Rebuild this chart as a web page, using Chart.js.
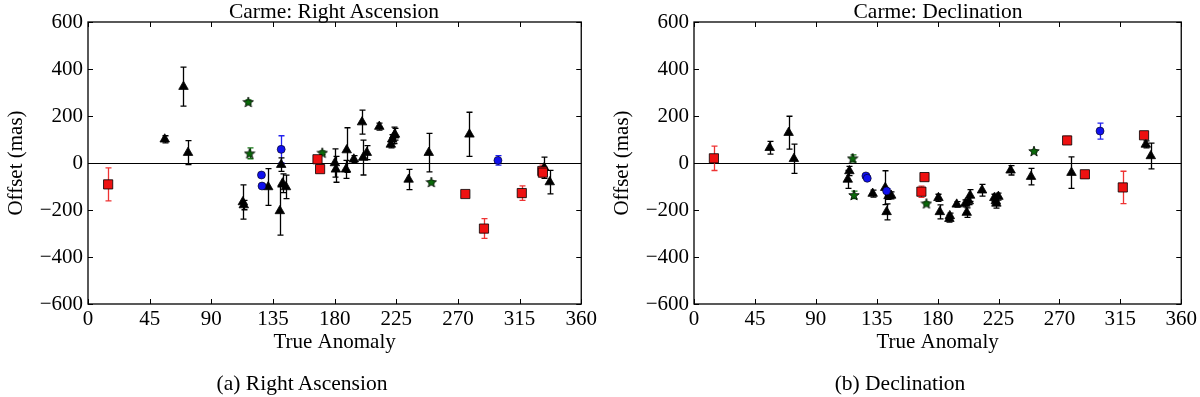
<!DOCTYPE html>
<html>
<head>
<meta charset="utf-8">
<script src="https://cdn.jsdelivr.net/npm/chart.js@4/dist/chart.umd.min.js"></script>
<style>
  body { margin: 0; background: #fff; font-family: "Liberation Serif", serif; }
  #wrap { position: relative; width: 1200px; height: 397px; overflow: hidden; }
  .box { position: absolute; top: 0; width: 600px; height: 397px; }
  .txt { position: absolute; font-size: 21.5px; color: #000; white-space: nowrap; transform: translateX(-50%); line-height: 22px; }
</style>
</head>
<body>
<div id="wrap">
  <div class="box" style="left:0"><canvas id="ra"></canvas></div>
  <div class="box" style="left:600px"><canvas id="dec"></canvas></div>
  <div class="txt" style="left:334px; top:0px">Carme: Right Ascension</div>
  <div class="txt" style="left:938px; top:0px">Carme: Declination</div>
  <div class="txt" style="left:302px; top:372px">(a) Right Ascension</div>
  <div class="txt" style="left:900px; top:372px">(b) Declination</div>
</div>
<script>
// Right ascension offsets (mas) vs true anomaly (deg)
let raSquareAnom = [14.7, 167.5, 169.4, 275.4, 289, 316.6, 331.6, 332];
let raSquareOff  = [-91, 16, -26, -132, -279, -128, -34, -41];
let raSquareErr  = [70, 15, 12, 12, 42, 31, 25, 15];

let raCircleAnom = [126.6, 127, 141, 299.2];
let raCircleOff  = [-51, -98, 58, 11];
let raCircleErr  = [8, 8, 58, 20];

let raTriAnom = [56, 69.7, 73, 113, 113.7, 131.5, 141, 140, 142, 144.5, 180.2, 180.9, 188.3, 188.8, 194, 200, 200.8, 203.5, 212.6, 221, 222, 223.6, 224, 234, 248.7, 278.4, 333, 337];
let raTriOff  = [101, 325, 44, -166, -179, -102, -7, -204, -86, -102, 0, -27, -27, 55, 16, 174, 23, 44, 155, 79, 101, 118, 122, -70, 44, 122, -20, -81];
let raTriErr  = [15, 83, 51, 73, 20, 78, 29, 103, 40, 50, 60, 55, 38, 95, 15, 51, 74, 30, 15, 15, 20, 35, 25, 43, 82, 94, 45, 50];

let raStarAnom = [117, 118, 171, 250.6];
let raStarOff  = [260, 41, 44, -81];
let raStarErr  = [8, 23, 8, 5];

// Declination offsets
let decSquareAnom = [14.7, 168, 170.3, 275.7, 288.8, 316.8, 332.5];
let decSquareOff  = [20, -122, -60, 96, -48, -104, 118];
let decSquareErr  = [52, 24, 10, 17, 8, 69, 10];

let decCircleAnom = [127, 128, 142.3, 300];
let decCircleOff  = [-55, -65, -119, 136];
let decCircleErr  = [8, 8, 10, 34];

let decTriAnom = [55.9, 69.9, 73.8, 113.6, 114.8, 132, 141.3, 142.3, 143.7, 145.7, 180.6, 181.6, 188.7, 189, 194.1, 200.5, 201.5, 203, 204, 212.8, 221.9, 223, 223.4, 224.9, 233.9, 249, 278.9, 333.8, 337.5];
let decTriOff  = [65, 129, 18, -70, -34, -130, -105, -208, -140, -138, -148, -208, -237, -225, -176, -172, -211, -162, -138, -116, -148, -162, -172, -143, -31, -58, -41, 79, 30];
let decTriErr  = [27, 70, 62, 38, 20, 15, 72, 34, 15, 15, 15, 30, 15, 12, 12, 15, 20, 15, 25, 25, 15, 15, 20, 15, 20, 35, 67, 15, 55];

let decStarAnom = [117.2, 118.2, 171.7, 251.2];
let decStarOff  = [20, -136, -172, 51];
let decStarErr  = [15, 16, 6, 5];

let xTicks = [0, 45, 90, 135, 180, 225, 270, 315, 360];
let yTicks = [-600, -400, -200, 0, 200, 400, 600];

function pts(a, o, e) {
    return a.map((v, i) => ({x: v, y: o[i], e: e[i]}));
}

// filled star marker
function makeStar() {
    let c = document.createElement('canvas');
    c.width = 12; c.height = 12;
    let g = c.getContext('2d');
    g.beginPath();
    for (let i = 0; i < 10; i++) {
        let r = i % 2 == 0 ? 5.5 : 2.3;
        let a = -Math.PI / 2 + i * Math.PI / 5;
        let px = 6 + r * Math.cos(a), py = 6.5 + r * Math.sin(a);
        if (i == 0) g.moveTo(px, py); else g.lineTo(px, py);
    }
    g.closePath();
    g.fillStyle = '#0a6a0a';
    g.fill();
    g.lineWidth = 0.8;
    g.strokeStyle = '#000';
    g.stroke();
    return c;
}
let starImg = makeStar();

let axesPlugin = {
    id: 'axesPlugin',
    beforeDatasetsDraw(chart) {
        let ctx = chart.ctx, a = chart.chartArea, x = chart.scales.x, y = chart.scales.y;
        ctx.save();
        ctx.lineWidth = 1.2;
        ctx.strokeStyle = '#000';
        let y0 = Math.round(y.getPixelForValue(0)) + 0.5;
        ctx.beginPath(); ctx.moveTo(a.left, y0); ctx.lineTo(a.right, y0); ctx.stroke();
        chart.data.datasets.forEach(ds => {
            ctx.strokeStyle = ds.errColor;
            ctx.lineWidth = 1.3;
            ds.data.forEach(p => {
                let px = Math.round(x.getPixelForValue(p.x)) + 0.5;
                let t = y.getPixelForValue(p.y + p.e), b = y.getPixelForValue(p.y - p.e);
                ctx.beginPath();
                ctx.moveTo(px, t); ctx.lineTo(px, b);
                ctx.moveTo(px - 3, t); ctx.lineTo(px + 3, t);
                ctx.moveTo(px - 3, b); ctx.lineTo(px + 3, b);
                ctx.stroke();
            });
        });
        ctx.restore();
    },
    afterDraw(chart) {
        let ctx = chart.ctx, a = chart.chartArea, x = chart.scales.x, y = chart.scales.y;
        ctx.save();
        ctx.strokeStyle = '#000';
        ctx.lineWidth = 1.3;
        ctx.strokeRect(a.left, a.top, a.right - a.left, a.bottom - a.top);
        ctx.lineWidth = 1;
        ctx.beginPath();
        xTicks.forEach(v => {
            let px = Math.round(x.getPixelForValue(v)) + 0.5;
            ctx.moveTo(px, a.bottom); ctx.lineTo(px, a.bottom - 5);
            ctx.moveTo(px, a.top); ctx.lineTo(px, a.top + 5);
        });
        yTicks.forEach(v => {
            let py = Math.round(y.getPixelForValue(v)) + 0.5;
            ctx.moveTo(a.left, py); ctx.lineTo(a.left + 5, py);
            ctx.moveTo(a.right, py); ctx.lineTo(a.right - 5, py);
        });
        ctx.stroke();
        ctx.restore();
    }
};

function init(id, padLeft, sets) {
    let font = {family: "'Liberation Serif', 'Times New Roman', serif", size: 21};
    return new Chart(document.getElementById(id), {
        type: 'scatter',
        data: {datasets: sets},
        plugins: [axesPlugin],
        options: {
            responsive: true,
            maintainAspectRatio: false,
            animation: false,
            layout: {padding: {left: padLeft, right: 18, top: 22, bottom: 42}},
            plugins: {legend: {display: false}, tooltip: {enabled: false}},
            scales: {
                x: {
                    type: 'linear', min: 0, max: 360,
                    grid: {display: false, drawTicks: false},
                    border: {display: false},
                    ticks: {stepSize: 45, color: '#000', font: font, padding: 3, maxRotation: 0},
                    title: {display: true, text: 'True Anomaly', color: '#000', font: font, padding: 0},
                    afterFit(s) { s.height = 51; }
                },
                y: {
                    min: -600, max: 600,
                    grid: {display: false, drawTicks: false},
                    border: {display: false},
                    ticks: {stepSize: 200, color: '#000', font: font, padding: 5,
                        callback: v => String(v).replace('-', '\u2212')},
                    title: {display: true, text: 'Offset (mas)', color: '#000', font: font, padding: 0},
                    afterFit(s) { s.width = 84; }
                }
            }
        }
    });
}

function series(sq, ci, tr, st) {
    return [
        {data: sq, pointStyle: 'rect', pointRadius: 6.5, backgroundColor: '#ee1111', borderColor: '#000', borderWidth: 0.8, errColor: '#ee3333'},
        {data: ci, pointStyle: 'circle', pointRadius: 4, backgroundColor: '#1010ee', borderColor: '#000', borderWidth: 0.6, errColor: '#2222ee'},
        {data: tr, pointStyle: 'triangle', pointRadius: 5.5, backgroundColor: '#000', borderColor: '#000', borderWidth: 0.8, errColor: '#000'},
        {data: st, pointStyle: starImg, pointRadius: 6, backgroundColor: '#0a6a0a', borderColor: '#000', errColor: '#1a7a1a'}
    ];
}

let ra = init('ra', 4, series(
    pts(raSquareAnom, raSquareOff, raSquareErr),
    pts(raCircleAnom, raCircleOff, raCircleErr),
    pts(raTriAnom, raTriOff, raTriErr),
    pts(raStarAnom, raStarOff, raStarErr)));

let dec = init('dec', 10, series(
    pts(decSquareAnom, decSquareOff, decSquareErr),
    pts(decCircleAnom, decCircleOff, decCircleErr),
    pts(decTriAnom, decTriOff, decTriErr),
    pts(decStarAnom, decStarOff, decStarErr)));

// redraw once system fonts are ready so canvas text picks up the serif face
document.fonts.ready.then(() => { ra.update(); dec.update(); });
</script>
</body>
</html>
